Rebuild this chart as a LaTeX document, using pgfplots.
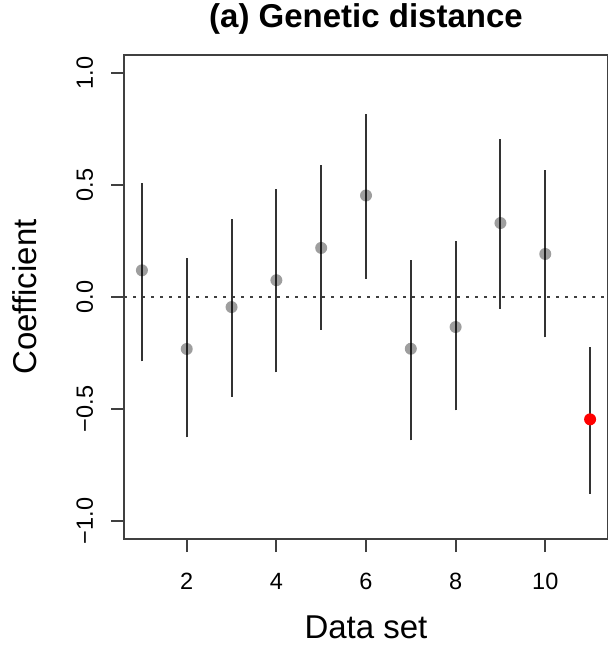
\documentclass[border=0pt]{standalone}
\usepackage{pgfplots}
\pgfplotsset{compat=1.18}
\usepackage{fontspec}
\setmainfont{Liberation Sans}
\usetikzlibrary{calc}
\definecolor{axgray}{HTML}{404040}
\definecolor{bargray}{HTML}{333333}
\newcommand{\tickfont}{\fontsize{23.5}{27}\selectfont}
\newcommand{\labfont}{\fontsize{33}{38}\selectfont}
\newcommand{\titfont}{\fontsize{33}{38}\selectfont\bfseries}
\begin{document}
\begin{tikzpicture}
\begin{axis}[
  scale only axis,
  width=484pt, height=484pt,
  xmin=0.6, xmax=11.4,
  ymin=-1.08, ymax=1.08,
  axis line style={axgray, line width=2pt},
  tick style={axgray, line width=2pt},
  tick align=outside,
  major tick length=13pt,
  tick pos=left,
  xtick={2,4,6,8,10},
  xticklabels={2,4,6,8,10},
  ytick={-1,-0.5,0,0.5,1},
  yticklabels={−1.0,−0.5,0.0,0.5,1.0},
  xticklabel style={font=\tickfont, anchor=base, inner sep=0pt},
  yticklabel style={font=\tickfont, rotate=90, anchor=base, inner sep=0pt},
  xticklabel shift=37pt,
  yticklabel shift=18pt,
  xlabel={Data set},
  ylabel={Coefficient},
  xlabel style={font=\labfont, at={(axis description cs:0.5,-0.2066)}, anchor=base, inner sep=0pt},
  ylabel style={font=\labfont, at={(axis description cs:-0.1798,0.5)}, anchor=base, inner sep=0pt},
  title={(a) Genetic distance},
  title style={font=\titfont, at={(axis description cs:0.5,1.0434)}, anchor=base, inner sep=0pt},
  unbounded coords=jump,
  clip=false,
]
\coordinate (sw) at (rel axis cs:0,0);
\coordinate (ne) at (rel axis cs:1,1);
% zero reference line
\addplot[axgray, line width=2pt, dash pattern=on 3pt off 6pt] coordinates {(0.6,0) (11.4,0)};
% intervals
\addplot[bargray, line width=2pt] coordinates {
 (1,-0.287) (1,0.509) (1,nan)
 (2,-0.626) (2,0.174) (2,nan)
 (3,-0.445) (3,0.350) (3,nan)
 (4,-0.336) (4,0.482) (4,nan)
 (5,-0.147) (5,0.591) (5,nan)
 (6,0.082) (6,0.816) (6,nan)
 (7,-0.640) (7,0.167) (7,nan)
 (8,-0.506) (8,0.250) (8,nan)
 (9,-0.052) (9,0.704) (9,nan)
 (10,-0.180) (10,0.567) (10,nan)
 (11,-0.878) (11,-0.221)
};
% estimates
\addplot[draw=none, only marks, mark=*, mark size=6pt, fill=black, fill opacity=0.38,
  mark options={draw=none, draw opacity=0, fill=black, fill opacity=0.38}] coordinates {
 (1,0.119) (2,-0.232) (3,-0.045) (4,0.075) (5,0.219) (6,0.453)
 (7,-0.231) (8,-0.134) (9,0.330) (10,0.192)
};
\addplot[draw=none, only marks, mark=*, mark size=6pt, fill=red,
  mark options={draw=none, draw opacity=0, fill=red}] coordinates {(11,-0.546)};
\end{axis}
\pgfresetboundingbox
\path[use as bounding box] ($(sw)+(-124pt,-112pt)$) rectangle ($(ne)+(-1pt,55pt)$);
\end{tikzpicture}
\end{document}
